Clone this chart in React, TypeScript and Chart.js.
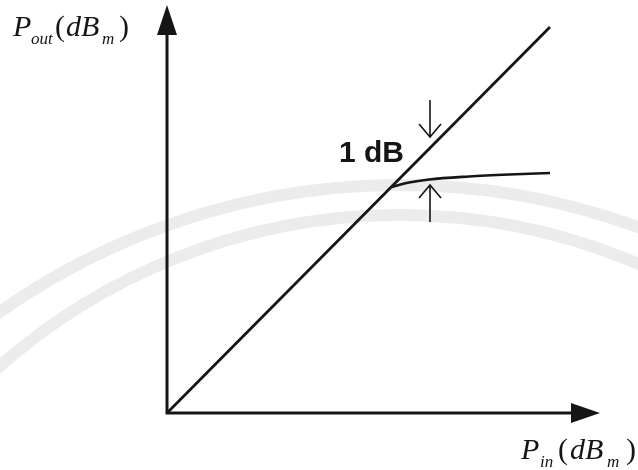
import React, { useEffect, useRef } from "react";
import { Chart, registerables } from "chart.js";

Chart.register(...registerables);

// Ideal (linear) amplifier response: Pout follows Pin one-to-one
const linearPin = [0, 38.3];
const linearPout = [0, 38.6];

// Real amplifier response bending away into compression
const compressedPin = [22.5, 23.2, 24.2, 26.2, 30.2, 34.2, 38.3];
const compressedPout = [22.6, 22.8, 23.05, 23.35, 23.65, 23.85, 24.0];

// Axis extents (dBm, relative)
const pinRange = [0, 43.3];
const poutRange = [0, 40.8];

// The 1 dB gap marker: two arrows at one input level
const markerPin = 26.3;
const upperArrowPout = [31.3, 27.6]; // tail, tip
const lowerArrowPout = [19.1, 22.8]; // tail, tip
const gapLabel = "1 dB";
const gapLabelAt = [17.2, 25.1];

const INK = "#151515";
const SERIF = '"Liberation Serif", "Times New Roman", serif';
const SANS = '"Liberation Sans", Arial, sans-serif';

function toPoints(xs: number[], ys: number[]) {
  return xs.map((x, i) => ({ x, y: ys[i] }));
}

// Faint seal printed behind the figure
const sealPlugin = {
  id: "seal",
  beforeDraw(chart: any) {
    const ctx = chart.ctx as CanvasRenderingContext2D;
    ctx.save();
    ctx.fillStyle = "#ffffff";
    ctx.fillRect(0, 0, chart.width, chart.height);
    ctx.strokeStyle = "#ececec";
    ctx.lineWidth = 12;
    ctx.beginPath();
    ctx.arc(400, 878, 693, Math.PI, 2 * Math.PI);
    ctx.stroke();
    ctx.beginPath();
    ctx.arc(400, 820, 605, Math.PI, 2 * Math.PI);
    ctx.stroke();
    ctx.restore();
  },
};

function drawSubscripted(
  ctx: CanvasRenderingContext2D,
  parts: { t: string; x: number; sub?: boolean; upright?: boolean }[],
  baseline: number
) {
  for (const p of parts) {
    if (p.sub) {
      ctx.font = `italic 17px ${SERIF}`;
      ctx.fillText(p.t, p.x, baseline + 8);
    } else {
      ctx.font = `${p.upright ? "" : "italic "}30px ${SERIF}`;
      ctx.fillText(p.t, p.x, baseline);
    }
  }
}

const annotationPlugin = {
  id: "annotations",
  afterDatasetsDraw(chart: any) {
    const ctx = chart.ctx as CanvasRenderingContext2D;
    const xs = chart.scales.x;
    const ys = chart.scales.y;
    const x0 = xs.getPixelForValue(pinRange[0]);
    const x1 = xs.getPixelForValue(pinRange[1]);
    const y0 = ys.getPixelForValue(poutRange[0]);
    const y1 = ys.getPixelForValue(poutRange[1]);

    ctx.save();
    ctx.strokeStyle = INK;
    ctx.fillStyle = INK;
    ctx.lineCap = "butt";

    // axes with solid arrowheads
    ctx.lineWidth = 3;
    ctx.beginPath();
    ctx.moveTo(x0, y0 + 1.5);
    ctx.lineTo(x0, y1 + 28);
    ctx.moveTo(x0 - 1.5, y0);
    ctx.lineTo(x1 - 28, y0);
    ctx.stroke();
    ctx.beginPath();
    ctx.moveTo(x0, y1);
    ctx.lineTo(x0 - 10, y1 + 30);
    ctx.lineTo(x0 + 10, y1 + 30);
    ctx.closePath();
    ctx.fill();
    ctx.beginPath();
    ctx.moveTo(x1, y0);
    ctx.lineTo(x1 - 29, y0 - 10);
    ctx.lineTo(x1 - 29, y0 + 10);
    ctx.closePath();
    ctx.fill();

    // open arrows bracketing the 1 dB gap
    const mx = xs.getPixelForValue(markerPin);
    const drawArrow = (tail: number, tip: number) => {
      const ty = ys.getPixelForValue(tip);
      const tl = ys.getPixelForValue(tail);
      const dir = tl > ty ? 1 : -1;
      ctx.lineWidth = 1.6;
      ctx.beginPath();
      ctx.moveTo(mx, tl);
      ctx.lineTo(mx, ty);
      ctx.moveTo(mx - 11, ty + dir * 13);
      ctx.lineTo(mx, ty);
      ctx.lineTo(mx + 11, ty + dir * 13);
      ctx.stroke();
    };
    drawArrow(upperArrowPout[0], upperArrowPout[1]);
    drawArrow(lowerArrowPout[0], lowerArrowPout[1]);

    ctx.font = `bold 30px ${SANS}`;
    ctx.textBaseline = "alphabetic";
    ctx.fillText(
      gapLabel,
      xs.getPixelForValue(gapLabelAt[0]),
      ys.getPixelForValue(gapLabelAt[1])
    );

    // axis titles
    drawSubscripted(
      ctx,
      [
        { t: "P", x: 13 },
        { t: "out", x: 31, sub: true },
        { t: "(", x: 55, upright: true },
        { t: "dB", x: 66 },
        { t: "m", x: 102, sub: true },
        { t: ")", x: 119, upright: true },
      ],
      36
    );
    drawSubscripted(
      ctx,
      [
        { t: "P", x: 521 },
        { t: "in", x: 540, sub: true },
        { t: "(", x: 558, upright: true },
        { t: "dB", x: 570 },
        { t: "m", x: 607, sub: true },
        { t: ")", x: 626, upright: true },
      ],
      459
    );
    ctx.restore();
  },
};

export default function App() {
  const ref = useRef<HTMLCanvasElement | null>(null);

  useEffect(() => {
    if (!ref.current) return;
    const chart = new Chart(ref.current, {
      type: "line",
      data: {
        datasets: [
          {
            label: "Linear",
            data: toPoints(linearPin, linearPout),
            borderColor: INK,
            borderWidth: 2.8,
            pointRadius: 0,
            tension: 0,
          },
          {
            label: "Compressed",
            data: toPoints(compressedPin, compressedPout),
            borderColor: INK,
            borderWidth: 2.6,
            pointRadius: 0,
            cubicInterpolationMode: "monotone",
          },
        ],
      },
      options: {
        animation: false,
        responsive: false,
        events: [],
        layout: { padding: { left: 167, right: 38, top: 5, bottom: 57 } },
        scales: {
          x: { type: "linear", min: pinRange[0], max: pinRange[1], display: false },
          y: { type: "linear", min: poutRange[0], max: poutRange[1], display: false },
        },
        plugins: {
          legend: { display: false },
          tooltip: { enabled: false },
        },
      },
      plugins: [sealPlugin, annotationPlugin],
    });
    return () => chart.destroy();
  }, []);

  return (
    <div style={{ position: "fixed", left: 0, top: 0, width: 638, height: 470, background: "#fff" }}>
      <canvas ref={ref} width={638} height={470} />
    </div>
  );
}
